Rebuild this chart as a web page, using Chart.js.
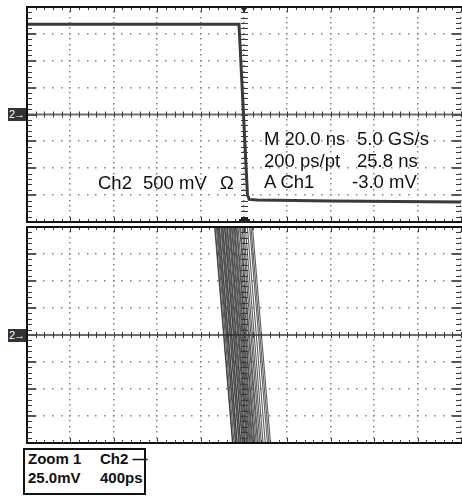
<!DOCTYPE html>
<html>
<head>
<meta charset="utf-8">
<script src="https://cdn.jsdelivr.net/npm/chart.js@4.4.1/dist/chart.umd.min.js"></script>
<style>
  body { margin: 0; background: #fff; width: 462px; height: 500px; overflow: hidden; position: relative;
         font-family: 'Liberation Sans', Arial, sans-serif; }
  .panel { position: absolute; left: 0; width: 462px; height: 226px; }
  .txt { position: absolute; font-size: 18.5px; line-height: 19px; color: #111; white-space: pre; }
  .gnd { position: absolute; left: 8px; width: 18px; height: 13px; background: #333; color: #fff;
         font-size: 11px; line-height: 13px; white-space: pre; letter-spacing: -1px; padding-left: 1px; box-sizing: border-box; }
  .zbox { position: absolute; left: 23px; top: 448px; width: 123px; height: 47px; border: 2px solid #111; box-sizing: border-box; }
  .ztxt { position: absolute; font-size: 15px; line-height: 15px; font-weight: bold; color: #111; white-space: pre; }
</style>
</head>
<body>
<div class="panel" style="top:0"><canvas id="mainChart" width="462" height="226"></canvas></div>
<div class="panel" style="top:220px"><canvas id="zoomChart" width="462" height="226"></canvas></div>

<div class="gnd" style="top:108px">2→</div>
<div class="gnd" style="top:329px">2→</div>

<div class="txt" style="left:264px; top:129px">M 20.0 ns</div>
<div class="txt" style="left:357px; top:129px">5.0 GS/s</div>
<div class="txt" style="left:264px; top:151px">200 ps/pt</div>
<div class="txt" style="left:357px; top:151px">25.8 ns</div>
<div class="txt" style="left:264px; top:172px">A Ch1</div>
<div class="txt" style="left:352px; top:172px">-3.0 mV</div>
<div class="txt" style="left:98px; top:173px">Ch2</div>
<div class="txt" style="left:143px; top:173px">500 mV</div>
<div class="txt" style="left:220px; top:173px">Ω</div>

<div class="zbox"></div>
<div class="ztxt" style="left:28px; top:451px">Zoom 1</div>
<div class="ztxt" style="left:100px; top:451px">Ch2 —</div>
<div class="ztxt" style="left:28px; top:470px">25.0mV</div>
<div class="ztxt" style="left:100px; top:470px">400ps</div>

<script>
// Main acquisition: 20 ns/div, 500 mV/div
const mainTimePerDiv = 20;    // ns
const mainVoltsPerDiv = 0.5;  // V
const mainTimeNs = [-100, -40, -2.3, 1.6, 2.4, 6, 40, 100];
const mainVolts  = [1.68, 1.68, 1.68, -1.50, -1.58, -1.59, -1.61, -1.63];

// Zoom 1: 400 ps/div, 25 mV/div, persisted falling edges
const zoomTimePerDiv = 400;   // ps
const zoomVoltsPerDiv = 25;   // mV
const zoomEdgeVolts = [100, -100];
const zoomTopPs    = [-271, -266, -255, -247, -240, -231, -226, -214, -207, -199, -193, -181, -176, -168, -158, -153, -141, -133,
                      -127, -116, -110, -99, -91, -84, -72, -66, -55, -41, -33, -18, -5, 12, 31, 52, 64, 78];
const zoomBottomPs = [-106, -103, -92, -80, -74, -64, -62, -48, -43, -33, -29, -16, -12, -2, 6, 13, 24, 31,
                      38, 48, 56, 65, 74, 82, 93, 100, 112, 124, 133, 147, 160, 176, 196, 216, 230, 244];

const divsX = 5;  // divisions each side of centre
const divsY = 4;

// Scope graticule: dotted divisions, ticked centre cross, ticked frame
const graticule = {
  id: 'graticule',
  beforeDatasetsDraw(chart, args, opts) {
    const { ctx, scales: { x, y } } = chart;
    const xd = opts.xPerDiv, yd = opts.yPerDiv;
    ctx.save();
    ctx.fillStyle = '#808080';
    for (let i = -divsX; i <= divsX; i++) {
      const px = Math.round(x.getPixelForValue(i * xd));
      for (let j = -divsY * 5; j <= divsY * 5; j++) {
        ctx.fillRect(px - 1, Math.round(y.getPixelForValue(j * yd / 5)) - 1, 1.5, 1.5);
      }
    }
    for (let j = -divsY; j <= divsY; j++) {
      if (j === 0) continue;
      const py = Math.round(y.getPixelForValue(j * yd));
      for (let i = -divsX * 5; i <= divsX * 5; i++) {
        ctx.fillRect(Math.round(x.getPixelForValue(i * xd / 5)) - 1, py - 1, 1.5, 1.5);
      }
    }
    // centre horizontal line
    const cy = y.getPixelForValue(0);
    ctx.strokeStyle = '#6e6e6e';
    ctx.lineWidth = 2;
    ctx.beginPath();
    ctx.moveTo(chart.chartArea.left, cy);
    ctx.lineTo(chart.chartArea.right, cy);
    ctx.stroke();
    ctx.restore();
  },
  afterDatasetsDraw(chart, args, opts) {
    const { ctx, chartArea: a, scales: { x, y } } = chart;
    const xd = opts.xPerDiv, yd = opts.yPerDiv;
    const cy = y.getPixelForValue(0), cx = x.getPixelForValue(0);
    ctx.save();
    ctx.strokeStyle = '#3a3a3a';
    ctx.lineWidth = 1;
    ctx.beginPath();
    for (let i = -divsX * 5; i <= divsX * 5; i++) {
      const px = Math.round(x.getPixelForValue(i * xd / 5)) + 0.5;
      const major = i % 5 === 0;
      ctx.moveTo(px, cy - 3); ctx.lineTo(px, cy + 3);
      ctx.moveTo(px, a.top); ctx.lineTo(px, a.top + (major ? 5 : 3));
      ctx.moveTo(px, a.bottom); ctx.lineTo(px, a.bottom - (major ? 5 : 3));
    }
    for (let j = -divsY * 5; j <= divsY * 5; j++) {
      const py = Math.round(y.getPixelForValue(j * yd / 5)) + 0.5;
      ctx.moveTo(cx - 3, py); ctx.lineTo(cx + 4, py);
      if (j % 5 !== 0) {
        ctx.moveTo(a.left, py); ctx.lineTo(a.left + 5, py);
        ctx.moveTo(a.right, py); ctx.lineTo(a.right - 5, py);
      }
    }
    ctx.stroke();
    // major edge ticks, heavier
    ctx.strokeStyle = '#555';
    ctx.lineWidth = 2;
    ctx.beginPath();
    for (let j = -divsY; j <= divsY; j++) {
      const py = Math.round(y.getPixelForValue(j * yd));
      ctx.moveTo(a.left, py); ctx.lineTo(a.left + 9, py);
      ctx.moveTo(a.right, py); ctx.lineTo(a.right - 9, py);
    }
    ctx.stroke();
    // frame: left, top, bottom (right edge runs off the screen)
    ctx.strokeStyle = '#111';
    ctx.lineWidth = 2;
    ctx.beginPath();
    ctx.moveTo(a.right + 2, a.top); ctx.lineTo(a.left, a.top);
    ctx.lineTo(a.left, a.bottom); ctx.lineTo(a.right + 2, a.bottom);
    ctx.stroke();
    // zoom position markers
    if (opts.markers) {
      ctx.fillStyle = '#222';
      ctx.beginPath();
      ctx.moveTo(cx - 4, a.top); ctx.lineTo(cx + 4, a.top); ctx.lineTo(cx, a.top + 5);
      ctx.closePath(); ctx.fill();
      ctx.fillRect(cx - 5, a.bottom - 3, 11, 4);
      ctx.fillRect(cx - 3, a.bottom - 5, 7, 2);
    }
    ctx.restore();
  }
};

function scopeOptions(xPerDiv, yPerDiv, markers) {
  return {
    responsive: false,
    animation: false,
    events: [],
    layout: { padding: { left: 27, top: 7, right: 1, bottom: 4 } },
    plugins: {
      legend: { display: false },
      tooltip: { enabled: false },
      graticule: { xPerDiv, yPerDiv, markers }
    },
    scales: {
      x: { type: 'linear', display: false, min: -divsX * xPerDiv, max: divsX * xPerDiv },
      y: { type: 'linear', display: false, min: -divsY * yPerDiv, max: divsY * yPerDiv }
    }
  };
}

new Chart(document.getElementById('mainChart'), {
  type: 'line',
  data: {
    datasets: [{
      data: mainTimeNs.map((t, i) => ({ x: t, y: mainVolts[i] })),
      borderColor: '#3a3a3a',
      borderWidth: 3,
      pointRadius: 0,
      tension: 0
    }]
  },
  options: scopeOptions(mainTimePerDiv, mainVoltsPerDiv, true),
  plugins: [graticule]
});

const zoomOpts = scopeOptions(zoomTimePerDiv, zoomVoltsPerDiv, false);
zoomOpts.layout.padding = { left: 27, top: 7, right: 1, bottom: 3 };

new Chart(document.getElementById('zoomChart'), {
  type: 'line',
  data: {
    datasets: zoomTopPs.map((t, i) => ({
      data: [{ x: t, y: zoomEdgeVolts[0] }, { x: zoomBottomPs[i], y: zoomEdgeVolts[1] }],
      borderColor: 'rgba(40,40,40,0.75)',
      borderWidth: 1.1,
      pointRadius: 0,
      clip: 0
    }))
  },
  options: zoomOpts,
  plugins: [graticule]
});
</script>
</body>
</html>
